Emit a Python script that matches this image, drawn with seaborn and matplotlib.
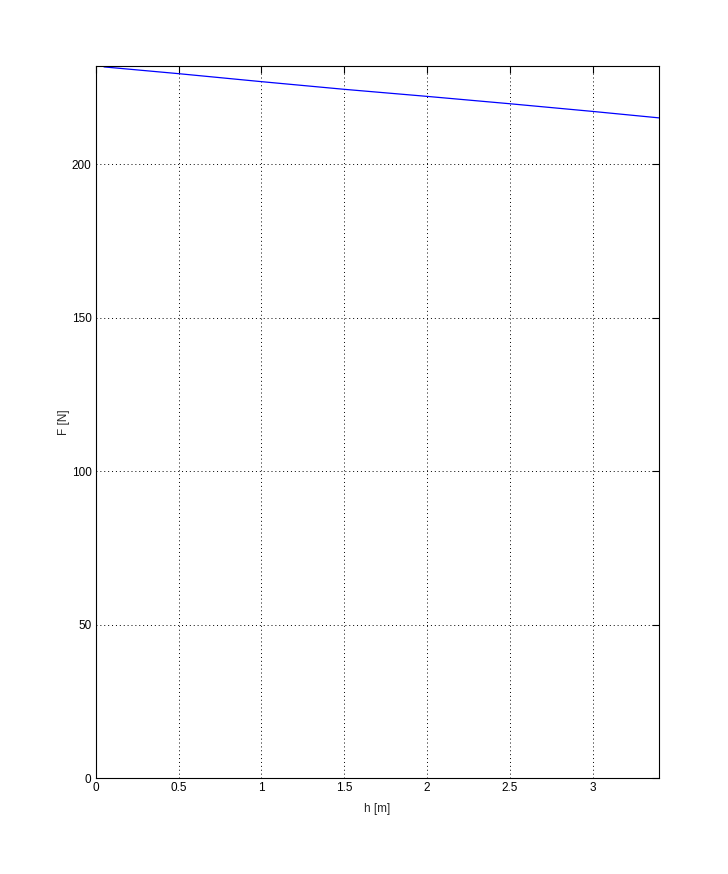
import seaborn as sns
import matplotlib.pyplot as plt
import pandas as pd

# h [m] vs F [N]
h_vals = [0.05, 0.5, 1.0, 1.5, 2.0, 2.5, 3.0, 3.4]
f_vals = [231.7, 229.5, 226.9, 224.4, 222.1, 219.7, 217.2, 215.1]

x_ticks = [0, 0.5, 1, 1.5, 2, 2.5, 3]
x_labels = ["0", "0.5", "1", "1.5", "2", "2.5", "3"]
y_ticks = [0, 50, 100, 150, 200]

df = pd.DataFrame({"h": h_vals, "F": f_vals})

sns.set_style("white")
plt.rcParams['font.family'] = ['Liberation Sans', 'DejaVu Sans']

fig = plt.figure(figsize=(7.28, 8.74), dpi=100)
ax = fig.add_axes([0.1315, 0.1098, 0.7735, 0.8147])

sns.lineplot(data=df, x="h", y="F", color=(0, 0, 1), linewidth=0.9, ax=ax)

ax.set_xlim(0, 3.4)
ax.set_ylim(0, 232)
ax.set_xticks(x_ticks)
ax.set_xticklabels(x_labels)
ax.set_yticks(y_ticks)

ax.grid(True, color="black", linestyle=(0, (1, 3)), linewidth=0.7)
ax.tick_params(direction="in", length=5, width=0.8, top=True, right=True,
               labelsize=8.5, colors="black", pad=3)
for s in ax.spines.values():
    s.set_color("black")
    s.set_linewidth(0.8)

ax.set_xlabel("h [m]", fontsize=8.5, labelpad=6)
ax.set_ylabel("F [N]", fontsize=8.5, labelpad=1)

fig.savefig("out.png", dpi=100, facecolor="white")
